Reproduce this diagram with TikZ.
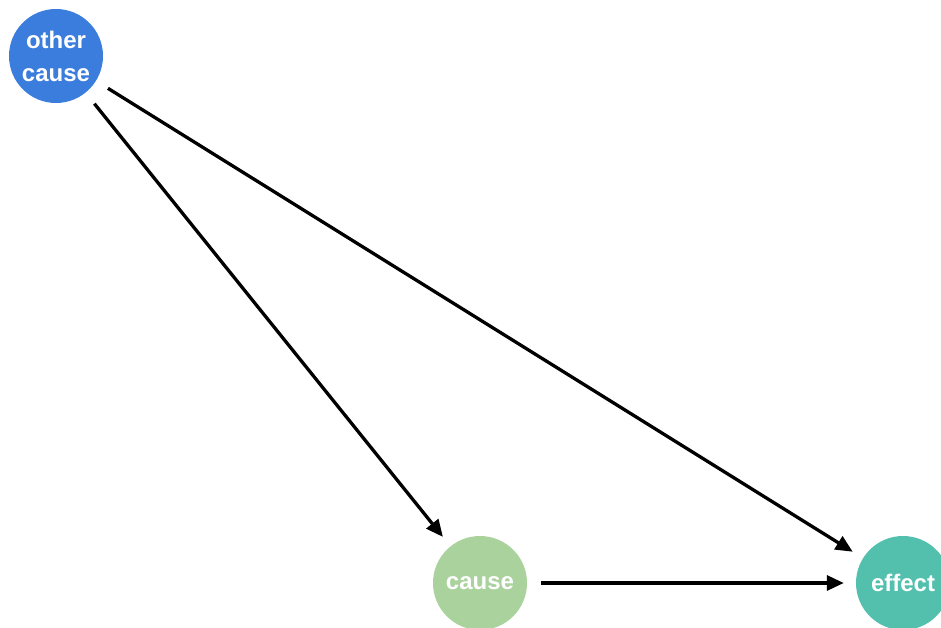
\documentclass[tikz,border=0pt]{standalone}
\usepackage{fontspec}
\setmainfont{Liberation Sans}
\usetikzlibrary{arrows.meta}
\definecolor{cblue}{HTML}{3B7DDD}
\definecolor{cgreen}{HTML}{A9D29D}
\definecolor{cteal}{HTML}{53C0AE}
\begin{document}
\begin{tikzpicture}[x=1pt,y=-1pt,
  dagnode/.style={circle,minimum size=94pt,inner sep=0pt,text=white,
    font=\fontsize{24}{33}\selectfont\bfseries,align=center},
  edge/.style={line width=3.3pt,-{Triangle[length=17pt,width=15pt]},
    shorten <=14pt,shorten >=12pt}]
\useasboundingbox (0,0) rectangle (941,628);
\node[dagnode,fill=cblue] (oc) at (56,56) {other\\cause};
\node[dagnode,fill=cgreen] (c) at (480,583) {\raisebox{-2pt}{cause}};
\node[dagnode,fill=cteal] (e) at (903,583) {\raisebox{-2pt}{effect}};
\draw[edge] (oc) -- (c);
\draw[edge] (oc) -- (e);
\draw[edge] (c) -- (e);
\end{tikzpicture}
\end{document}
